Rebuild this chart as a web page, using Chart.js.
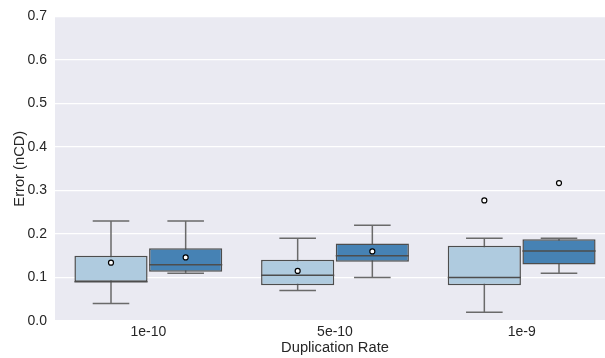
<!DOCTYPE html>
<html>
<head>
<meta charset="utf-8">
<script src="https://cdn.jsdelivr.net/npm/chart.js@4.4.1/dist/chart.umd.min.js"></script>
<style>
    html, body { margin: 0; padding: 0; background: #fff; overflow: hidden; }
    #errorChart { display: block; }
</style>
</head>
<body>
<canvas id="errorChart" width="615" height="358"></canvas>
<script>
// ============================================
// ERROR BY DUPLICATION RATE - BOX PLOT
// ============================================

const rates = ['1e-10', '5e-10', '1e-9'];
const yTicks = [0, 0.1, 0.2, 0.3, 0.4, 0.5, 0.6, 0.7];

// light series
const lightLow = [0.04, 0.07, 0.02];
const lightQ1 = [0.09, 0.082, 0.082];
const lightMedian = [0.09, 0.105, 0.10];
const lightQ3 = [0.15, 0.141, 0.173];
const lightHigh = [0.23, 0.19, 0.19];
const lightMean = [0.134, 0.115, 0.277];

// dark series
const darkLow = [0.11, 0.10, 0.11];
const darkQ1 = [0.113, 0.136, 0.13];
const darkMedian = [0.129, 0.15, 0.161];
const darkQ3 = [0.167, 0.178, 0.188];
const darkHigh = [0.23, 0.22, 0.19];
const darkMean = [0.146, 0.16, 0.317];

const boxStats = [
    { low: lightLow, median: lightMedian, high: lightHigh, mean: lightMean },
    { low: darkLow, median: darkMedian, high: darkHigh, mean: darkMean }
];

const LINE_GRAY = '#4d4d4d';
const WHISKER_GRAY = '#6a6a6a';
const TEXT_COLOR = '#262626';
const FONT = "'Liberation Sans', Arial, sans-serif";

// ========== PLOT BACKGROUND ==========
const plotBackground = {
    id: 'plotBackground',
    beforeDraw(chart) {
        const { ctx, chartArea: a } = chart;
        ctx.save();
        ctx.fillStyle = '#eaeaf2';
        ctx.fillRect(a.left, a.top, a.right - a.left, a.bottom - a.top);
        ctx.restore();
    }
};

// ========== WHISKERS, MEDIANS, MEANS ==========
function eachBox(chart, fn) {
    chart.data.datasets.forEach((ds, di) => {
        const meta = chart.getDatasetMeta(di);
        meta.data.forEach((bar, i) => fn(bar, boxStats[di], i));
    });
}

const boxExtras = {
    id: 'boxExtras',
    beforeDatasetsDraw(chart) {
        const { ctx, scales: { y } } = chart;
        ctx.save();
        ctx.strokeStyle = WHISKER_GRAY;
        ctx.lineWidth = 1.5;
        eachBox(chart, (bar, s, i) => {
            const half = bar.width / 4;
            const yLow = y.getPixelForValue(s.low[i]);
            const yHigh = y.getPixelForValue(s.high[i]);
            ctx.beginPath();
            ctx.moveTo(bar.x, yLow);
            ctx.lineTo(bar.x, yHigh);
            ctx.moveTo(bar.x - half, yLow);
            ctx.lineTo(bar.x + half, yLow);
            ctx.moveTo(bar.x - half, yHigh);
            ctx.lineTo(bar.x + half, yHigh);
            ctx.stroke();
        });
        ctx.restore();
    },
    afterDatasetsDraw(chart) {
        const { ctx, scales: { y } } = chart;
        ctx.save();
        eachBox(chart, (bar, s, i) => {
            const ym = y.getPixelForValue(s.median[i]);
            ctx.strokeStyle = LINE_GRAY;
            ctx.lineWidth = 1.5;
            ctx.beginPath();
            ctx.moveTo(bar.x - bar.width / 2, ym);
            ctx.lineTo(bar.x + bar.width / 2, ym);
            ctx.stroke();

            ctx.beginPath();
            ctx.arc(bar.x, y.getPixelForValue(s.mean[i]), 2.5, 0, Math.PI * 2);
            ctx.fillStyle = '#ffffff';
            ctx.fill();
            ctx.lineWidth = 1.2;
            ctx.strokeStyle = '#000000';
            ctx.stroke();
        });
        ctx.restore();
    }
};

// ========== CHART ==========
const ctx = document.getElementById('errorChart').getContext('2d');
new Chart(ctx, {
    type: 'bar',
    data: {
        labels: rates,
        datasets: [
            {
                label: 'light',
                data: lightQ1.map((q1, i) => [q1, lightQ3[i]]),
                backgroundColor: '#afcbdf',
                borderColor: LINE_GRAY,
                borderWidth: 1.5,
                borderSkipped: false,
                categoryPercentage: 0.8,
                barPercentage: 0.98
            },
            {
                label: 'dark',
                data: darkQ1.map((q1, i) => [q1, darkQ3[i]]),
                backgroundColor: '#4682b4',
                borderColor: LINE_GRAY,
                borderWidth: 1.5,
                borderSkipped: false,
                categoryPercentage: 0.8,
                barPercentage: 0.98
            }
        ]
    },
    options: {
        responsive: false,
        animation: false,
        layout: { padding: { top: 15, right: 0, left: 0, bottom: 0 } },
        plugins: {
            legend: { display: false },
            tooltip: { enabled: false }
        },
        scales: {
            x: {
                grid: { display: false, drawTicks: false },
                border: { display: false },
                ticks: {
                    color: TEXT_COLOR,
                    font: { family: FONT, size: 14 },
                    padding: 3
                },
                title: {
                    display: true,
                    text: 'Duplication Rate',
                    color: TEXT_COLOR,
                    font: { family: FONT, size: 14.7 },
                    padding: { top: 0, bottom: 1 }
                },
                afterFit(scale) { scale.height = 37; }
            },
            y: {
                min: 0,
                max: 0.7,
                afterBuildTicks(scale) {
                    scale.ticks = yTicks.map(v => ({ value: v }));
                },
                grid: { color: '#ffffff', lineWidth: 1.25, drawTicks: false },
                border: { display: false },
                ticks: {
                    color: TEXT_COLOR,
                    font: { family: FONT, size: 14 },
                    padding: 8,
                    callback: v => v.toFixed(1)
                },
                title: {
                    display: true,
                    text: 'Error (nCD)',
                    color: TEXT_COLOR,
                    font: { family: FONT, size: 14.7 },
                    padding: { top: 11, bottom: 0 }
                },
                afterFit(scale) { scale.width = 55; }
            }
        }
    },
    plugins: [plotBackground, boxExtras]
});
</script>
</body>
</html>
